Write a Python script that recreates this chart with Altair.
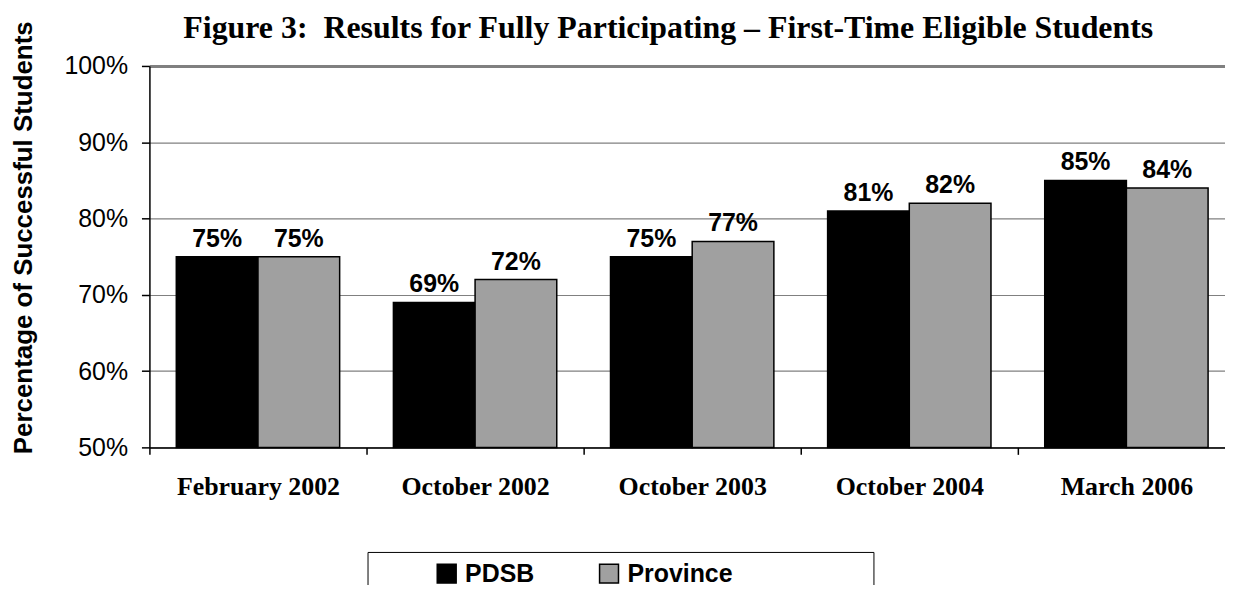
import altair as alt
import pandas as pd

categories = ["February 2002", "October 2002", "October 2003", "October 2004", "March 2006"]
pdsb = [75, 69, 75, 81, 85]
province = [75, 72, 77, 82, 84]
series_names = ["PDSB", "Province"]
series_colors = ["#000000", "#a0a0a0"]
y_ticks = [0.5, 0.6, 0.7, 0.8, 0.9, 1.0]

rows = []
for c, a, b in zip(categories, pdsb, province):
    rows.append({"period": c, "group": "PDSB", "value": a / 100, "label": f"{a}%"})
    rows.append({"period": c, "group": "Province", "value": b / 100, "label": f"{b}%"})
df = pd.DataFrame(rows)

x_enc = alt.X(
    "period:N",
    sort=categories,
    scale=alt.Scale(range=[0, 1090], paddingInner=0, paddingOuter=0),
    axis=alt.Axis(
        title=None, tickBand="extent", labelAngle=0,
        labelFont="Liberation Serif", labelFontWeight="bold", labelFontSize=26,
        labelColor="black", labelBaseline="alphabetic", labelPadding=40, labelLimit=400,
        tickSize=7, tickColor="black", tickWidth=1.5,
        domainColor="black", domainWidth=1.5, grid=False,
    ),
)
xoff_enc = alt.XOffset(
    "group:N", sort=series_names,
    scale=alt.Scale(domain=series_names, paddingOuter=0.329, paddingInner=0),
)
y_enc = alt.Y(
    "value:Q",
    scale=alt.Scale(domain=[0.5, 1.0], zero=False, nice=False),
    axis=alt.Axis(
        values=y_ticks, format=".0%",
        title="Percentage of Successful Students",
        titleFont="Liberation Sans", titleFontSize=26, titleFontWeight="bold", titleColor="black",
        titleX=-118, titleY=172, titleAlign="center", titleAngle=270, titleBaseline="alphabetic",
        labelFont="Liberation Sans", labelFontSize=25, labelColor="black", labelPadding=14,
        tickSize=8, tickColor="black", tickWidth=1.5,
        domainColor="black", domainWidth=1.5,
        gridColor="#808080", gridWidth=alt.ExprRef("datum.value == 1 ? 3 : 1.2"),
    ),
)

pad_tail = "\u00a0" * 19 + "\u200b"

bars = alt.Chart(df).mark_bar(stroke="black", strokeWidth=1.5).encode(
    x=x_enc,
    xOffset=xoff_enc,
    y=y_enc,
    y2=alt.datum(0.5),
    color=alt.Color(
        "group:N", sort=series_names,
        scale=alt.Scale(domain=series_names, range=series_colors),
        legend=alt.Legend(
            title=None, orient="none", legendX=219, legendY=488, direction="horizontal",
            symbolType="square", symbolSize=361, symbolStrokeColor="black", symbolStrokeWidth=1.5,
            labelFont="Liberation Sans", labelFontSize=25, labelFontWeight="bold", labelColor="black",
            labelOffset=6, strokeColor="black", fillColor="white", padding=9,
            symbolOffset=58, columnPadding=4,
            labelExpr="datum.label == 'Province' ? datum.label + '" + pad_tail + "' : datum.label",
            labelLimit=500,
        ),
    ),
)

labels = alt.Chart(df).mark_text(
    font="Liberation Sans", fontSize=25, fontWeight="bold", baseline="alphabetic", dy=-10, color="black"
).encode(
    x=x_enc,
    xOffset=xoff_enc,
    y=y_enc,
    text="label:N",
)

chart = alt.layer(bars, labels).properties(
    width=1080,
    height=383,
    title=alt.Title(
        text="Figure 3:\u00a0 Results for Fully Participating – First-Time Eligible Students",
        font="Liberation Serif", fontSize=32, fontWeight="bold", color="black",
        anchor="middle", baseline="alphabetic", dx=-19, dy=49, offset=0,
    ),
    padding={"left": 142, "top": 57, "right": 0, "bottom": 137},
    autosize=alt.AutoSizeParams(type="none"),
).configure_view(stroke=None)

chart.save("out.html", embed_options={"renderer": "svg", "actions": False})
